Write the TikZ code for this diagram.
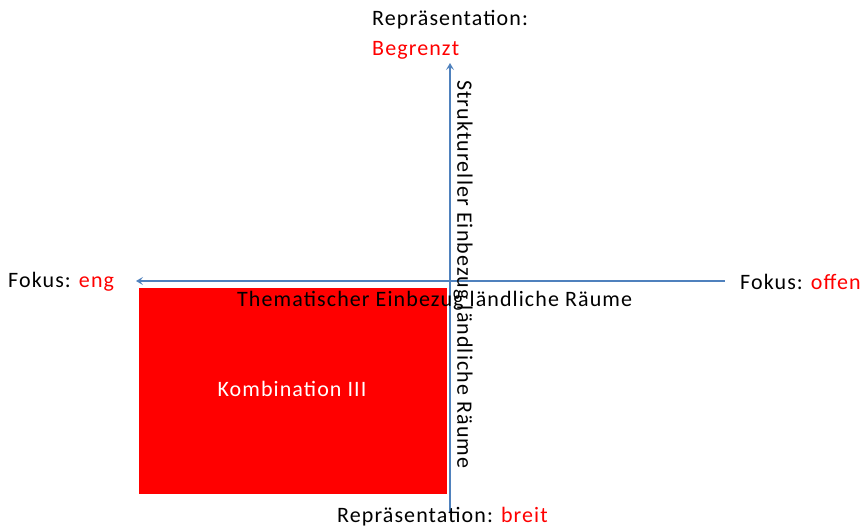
\documentclass[tikz,border=0pt]{standalone}
\usepackage{fontspec}
\setmainfont{Carlito}[LetterSpace=5]
\definecolor{axisblue}{HTML}{4F81BD}
\definecolor{xlred}{HTML}{FF0000}
\tikzset{
  lbl/.style={inner sep=0pt, anchor=west, font=\fontsize{22}{26}\selectfont},
  axis/.style={axisblue, line width=1.2pt, -{Stealth[length=7pt,width=8pt,inset=3pt]}},
}
\usetikzlibrary{arrows.meta}
\begin{document}
\begin{tikzpicture}[x=1pt,y=-1pt]
    \useasboundingbox (0,0) rectangle (867,529);

% quadrant box
\fill[xlred] (139,288) rectangle (447,494);
\node[lbl, anchor=center, white] (komb) at (292,389) {Kombination III};

% axes
\coordinate (left) at (136,281);
\coordinate (right) at (725,281);
\coordinate (top) at (450,63);
\coordinate (bottom) at (450,513);
\draw[axis, {Stealth[length=7pt,width=8pt,inset=3pt]}-] (left) -- (right);
\draw[axis] (bottom) -- (top);

% axis ends
\node[lbl] (repr) at (372,20) {Repräsentation:};
\node[lbl, xlred] (begr) at (372,50) {Begrenzt};
\node[lbl] (fokl) at (8,282) {Fokus: \textcolor{xlred}{eng}};
\node[lbl] (fokr) at (740,282) {Fokus: \textcolor{xlred}{offen}};
\node[lbl] (breit) at (337,517) {Repräsentation: \textcolor{xlred}{breit}};

% axis titles
\node[lbl] (them) at (237,301) {Thematischer Einbezug ländliche Räume};
\node[lbl, rotate=-90] (strukt) at (463,80) {Struktureller Einbezug ländliche Räume};

\end{tikzpicture}
\end{document}
